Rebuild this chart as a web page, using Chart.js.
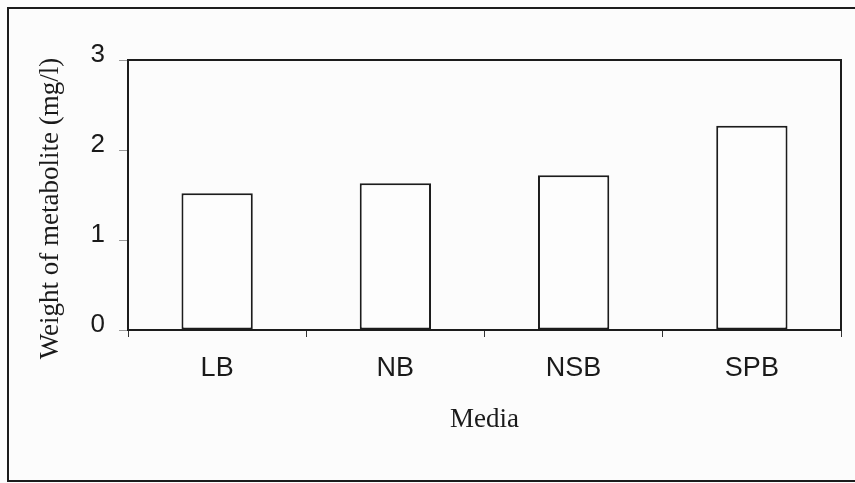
<!DOCTYPE html>
<html>
<head>
<meta charset="utf-8">
<script src="https://cdn.jsdelivr.net/npm/chart.js@4.4.0/dist/chart.umd.min.js"></script>
<style>
  html, body { margin: 0; padding: 0; background: #fcfcfc; }
  #wrap { width: 855px; height: 483px; }
</style>
</head>
<body>
<div id="wrap"><canvas id="myBarChartMedia" width="855" height="483"></canvas></div>
<script>
// values
const media = ["LB", "NB", "NSB", "SPB"];
const weight = [1.52, 1.63, 1.72, 2.27];
const yMin = 0;
const yMax = 3;
const yStep = 1;

const frames = {
    id: "frames",
    beforeDraw: function (chart) {
        const ctx = chart.ctx;
        ctx.save();
        ctx.fillStyle = "#fcfcfc";
        ctx.fillRect(0, 0, chart.width, chart.height);
        ctx.restore();
    },
    afterDraw: function (chart) {
        const ctx = chart.ctx;
        const a = chart.chartArea;
        ctx.save();
        ctx.strokeStyle = "#1c1c1c";
        ctx.lineWidth = 2;
        // box round the plot
        ctx.strokeRect(a.left, a.top, a.right - a.left, a.bottom - a.top);
        // outer frame (left, top, bottom; right edge is cut off)
        ctx.beginPath();
        ctx.moveTo(chart.width, 8);
        ctx.lineTo(8, 8);
        ctx.lineTo(8, 481);
        ctx.lineTo(chart.width, 481);
        ctx.stroke();
        ctx.restore();
    }
};

function createBarChart() {
    const ctx = document.getElementById("myBarChartMedia");
    new Chart(ctx, {
        type: "bar",
        data: {
            labels: media,
            datasets: [{
                label: "weight",
                data: weight,
                backgroundColor: "#fdfdfd",
                borderColor: "#1c1c1c",
                borderWidth: 2,
                borderSkipped: false,
                categoryPercentage: 1,
                barPercentage: 0.4
            }]
        },
        options: {
            responsive: false,
            animation: false,
            layout: { padding: { left: 20, top: 60, right: 14, bottom: 0 } },
            plugins: {
                legend: { display: false },
                tooltip: { enabled: false }
            },
            scales: {
                x: {
                    afterFit: function (scale) { scale.height = 153; },
                    grid: { drawOnChartArea: false, offset: true, tickLength: 7, color: "#333", lineWidth: 1 },
                    border: { display: true, color: "#1c1c1c", width: 2 },
                    ticks: { color: "#1a1a1a", padding: 15, font: { family: "Liberation Sans", size: 27 } },
                    title: {
                        display: true,
                        text: "Media",
                        color: "#1a1a1a",
                        padding: { top: 47, bottom: 47 },
                        font: { family: "Liberation Serif", size: 27 }
                    }
                },
                y: {
                    min: yMin,
                    max: yMax,
                    afterFit: function (scale) { scale.width = 108; },
                    grid: { drawOnChartArea: false, tickLength: 9, color: "#9a9a9a", lineWidth: 1 },
                    border: { display: true, color: "#1c1c1c", width: 2 },
                    ticks: {
                        stepSize: yStep,
                        color: "#1a1a1a",
                        padding: 14,
                        labelOffset: -5,
                        font: { family: "Liberation Sans", size: 26 }
                    },
                    title: {
                        display: true,
                        // trailing spaces push the centred title a little lower, as in the original
                        text: "Weight of metabolite (mg/l)    ",
                        color: "#1a1a1a",
                        padding: { top: 15, bottom: 15 },
                        font: { family: "Liberation Serif", size: 27 }
                    }
                }
            }
        },
        plugins: [frames]
    });
}

createBarChart();
</script>
</body>
</html>
